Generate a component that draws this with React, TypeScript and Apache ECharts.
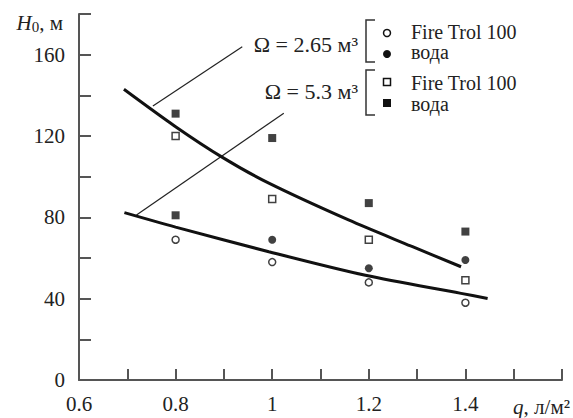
import React, { useEffect, useRef } from "react";
import * as echarts from "echarts";

// Measured data
const xValues = [0.8, 1.0, 1.2, 1.4];
const fireTrol265 = [69, 58, 48, 38]; // Ω = 2.65 м³, Fire Trol 100 (open circles)
const water265: (number | null)[] = [null, 69, 55, 59]; // Ω = 2.65 м³, вода (filled circles)
const fireTrol53 = [120, 89, 69, 49]; // Ω = 5.3 м³, Fire Trol 100 (open squares)
const water53 = [131, 119, 87, 73]; // Ω = 5.3 м³, вода (filled squares)
const water53Extra: [number, number][] = [[0.8, 81]];

const curveUpper: [number, number][] = [
  [0.693, 143], [0.8, 124.6], [0.897, 109.5], [0.993, 96.8], [1.158, 78.7],
  [1.288, 65.8], [1.391, 55.7],
];
const curveLower: [number, number][] = [
  [0.694, 82.3], [0.8, 75.2], [0.993, 63.1], [1.193, 51.5], [1.391, 42.6],
  [1.446, 40.1],
];
const pointerUpper: [number, number][] = [[0.938, 163.9], [0.753, 134.8]];
const pointerLower: [number, number][] = [[1.024, 131.2], [0.719, 81.2]];

const xLabelValues = [0.6, 0.8, 1, 1.2, 1.4];
const yLabelValues = [0, 40, 80, 120, 160];

const legendOmega = ["Ω = 2.65 м³", "Ω = 5.3 м³"];
const legendNames = ["Fire Trol 100", "вода", "Fire Trol 100", "вода"];

const FONT = "Liberation Serif";
const AXIS_COLOR = "#555";
const TEXT_COLOR = "#222";

function pairs(ys: (number | null)[]) {
  const out: [number, number][] = [];
  ys.forEach((y, i) => {
    if (y !== null) out.push([xValues[i], y]);
  });
  return out;
}

export default function App() {
  const ref = useRef<HTMLDivElement>(null);
  useEffect(() => {
    if (!ref.current) return;
    const chart = echarts.init(ref.current, undefined, { renderer: "svg" });
    const openStyle = { color: "#fff", borderColor: "#111", borderWidth: 1.5 };
    const filledStyle = { color: "#111" };
    const fs = 21;
    const lg = 20;
    const txt = (text: string, x: number, y: number, align: string, size: number) => ({
      type: "text",
      x,
      y,
      style: { text, fontFamily: FONT, fontSize: size, fill: TEXT_COLOR, align, verticalAlign: "middle" },
    });
    chart.setOption({
      animation: false,
      backgroundColor: "#fff",
      textStyle: { fontFamily: FONT },
      grid: { left: 79, top: 14, right: 8, bottom: 38, containLabel: false },
      xAxis: {
        type: "value",
        min: 0.6,
        max: 1.6,
        interval: 0.1,
        splitLine: { show: false },
        axisLine: { lineStyle: { color: AXIS_COLOR, width: 2 } },
        axisTick: { inside: true, length: 11, lineStyle: { color: AXIS_COLOR, width: 2 } },
        axisLabel: {
          margin: 13,
          color: TEXT_COLOR,
          fontFamily: FONT,
          fontSize: fs,
          showMaxLabel: true,
          showMinLabel: true,
          formatter: (v: number) => {
            const r = Math.round(v * 10) / 10;
            return xLabelValues.some((t) => Math.abs(t - r) < 1e-6) ? String(r) : "";
          },
        },
        name: "{i|q}{n|, л/м²}",
        nameLocation: "end",
        nameGap: 8,
        nameTextStyle: {
          align: "right",
          verticalAlign: "top",
          padding: [16, 0, 0, 0],
          rich: {
            i: { fontFamily: FONT, fontSize: fs, fontStyle: "italic", color: TEXT_COLOR },
            n: { fontFamily: FONT, fontSize: fs, color: TEXT_COLOR },
          },
        },
      },
      yAxis: {
        type: "value",
        min: 0,
        max: 180,
        interval: 20,
        splitLine: { show: false },
        axisLine: { lineStyle: { color: AXIS_COLOR, width: 2 } },
        axisTick: { inside: true, length: 12, lineStyle: { color: AXIS_COLOR, width: 2 } },
        axisLabel: {
          margin: 14,
          color: TEXT_COLOR,
          fontFamily: FONT,
          fontSize: fs,
          formatter: (v: number) => (yLabelValues.indexOf(Math.round(v)) >= 0 ? String(Math.round(v)) : ""),
        },
        name: "{i|H}{s|0}{n|, м}",
        nameLocation: "end",
        nameGap: -9,
        nameTextStyle: {
          align: "right",
          verticalAlign: "middle",
          padding: [0, 16, 0, 0],
          rich: {
            i: { fontFamily: FONT, fontSize: fs, fontStyle: "italic", color: TEXT_COLOR },
            s: { fontFamily: FONT, fontSize: 15, color: TEXT_COLOR, verticalAlign: "bottom", padding: [8, 0, 0, 0] },
            n: { fontFamily: FONT, fontSize: fs, color: TEXT_COLOR },
          },
        },
      },
      series: [
        {
          type: "line",
          data: curveUpper,
          smooth: 0.3,
          showSymbol: false,
          lineStyle: { color: "#111", width: 3 },
          z: 2,
        },
        {
          type: "line",
          data: curveLower,
          smooth: 0.3,
          showSymbol: false,
          lineStyle: { color: "#111", width: 3 },
          z: 2,
        },
        {
          type: "line",
          data: pointerUpper,
          showSymbol: false,
          lineStyle: { color: "#222", width: 1.2 },
          z: 1,
        },
        {
          type: "line",
          data: pointerLower,
          showSymbol: false,
          lineStyle: { color: "#222", width: 1.2 },
          z: 1,
        },
        {
          type: "scatter",
          data: pairs(fireTrol265),
          symbol: "circle",
          symbolSize: 7,
          itemStyle: openStyle,
          z: 3,
        },
        {
          type: "scatter",
          data: pairs(water265),
          symbol: "circle",
          symbolSize: 8,
          itemStyle: filledStyle,
          z: 3,
        },
        {
          type: "scatter",
          data: pairs(fireTrol53),
          symbol: "rect",
          symbolSize: 7,
          itemStyle: openStyle,
          z: 3,
        },
        {
          type: "scatter",
          data: [...pairs(water53), ...water53Extra],
          symbol: "rect",
          symbolSize: 8,
          itemStyle: filledStyle,
          z: 3,
        },
      ],
      graphic: [
        txt(legendOmega[0], 358, 44, "right", 22),
        txt(legendOmega[1], 358, 91, "right", 22),
        {
          type: "polyline",
          shape: { points: [[375, 20], [366, 20], [366, 62], [375, 62]] },
          style: { stroke: "#333", lineWidth: 1.5, fill: null },
        },
        {
          type: "polyline",
          shape: { points: [[375, 70], [366, 70], [366, 115], [375, 115]] },
          style: { stroke: "#333", lineWidth: 1.5, fill: null },
        },
        { type: "circle", shape: { cx: 387, cy: 33, r: 3.5 }, style: { fill: "#fff", stroke: "#111", lineWidth: 1.5 } },
        { type: "circle", shape: { cx: 387, cy: 54, r: 4 }, style: { fill: "#111" } },
        { type: "rect", shape: { x: 383.5, y: 78.5, width: 7, height: 7 }, style: { fill: "#fff", stroke: "#111", lineWidth: 1.5 } },
        { type: "rect", shape: { x: 383, y: 99, width: 8, height: 8 }, style: { fill: "#111" } },
        txt(legendNames[0], 411, 31.5, "left", lg),
        txt(legendNames[1], 411, 52, "left", lg),
        txt(legendNames[2], 411, 83, "left", lg),
        txt(legendNames[3], 411, 103.5, "left", lg),
      ],
    });
    return () => chart.dispose();
  }, []);
  return (
    <div
      ref={ref}
      style={{ position: "fixed", left: 0, top: 0, width: 573, height: 418, background: "#fff" }}
    />
  );
}
